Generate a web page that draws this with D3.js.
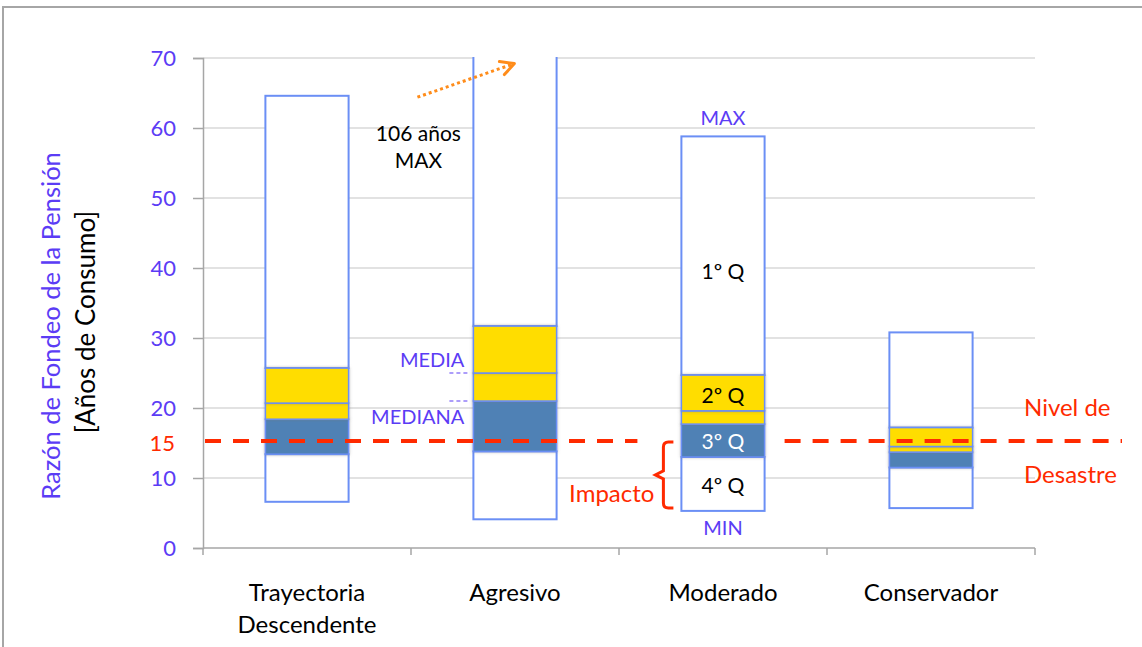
<!DOCTYPE html>
<html>
<head>
<meta charset="utf-8">
<script src="https://cdn.jsdelivr.net/npm/d3@7"></script>
<style>
  body { margin: 0; background: #fff; }
  svg { display: block; font-family: Lato, "Open Sans", sans-serif; }
</style>
</head>
<body>
<svg width="1142" height="647"></svg>
<script>
// --- data ---
var categories = ["Trayectoria Descendente", "Agresivo", "Moderado", "Conservador"];
var minVals    = [6.6, 4.1, 5.3, 5.7];
var q1Vals     = [13.4, 13.8, 13.0, 11.5];
var medianVals = [18.4, 21.0, 17.7, 13.7];
var meanVals   = [20.7, 25.0, 19.6, 14.5];
var q3Vals     = [25.7, 31.7, 24.7, 17.2];
var maxVals    = [64.6, 106, 58.8, 30.8];
var yTicks     = [0, 10, 20, 30, 40, 50, 60, 70];
var disasterLevel = 15.3;

var purple = "#5b3cf5",
    red = "#ff2a00",
    yellow = "#ffdd00",
    blue = "#4f81b5",
    barStroke = "#6b8ff5",
    axisGray = "#a6a6a6",
    gridGray = "#d9d9d9";

var svg = d3.select("svg");

// frame
svg.append("path")
    .attr("d", "M3,647 L3,7 L1142,7")
    .attr("fill", "none").attr("stroke", axisGray).attr("stroke-width", 2);

var x = d3.scaleBand()
    .domain(categories)
    .range([203, 1035])
    .paddingInner(0.6)
    .paddingOuter(0.3);

var y = d3.scaleLinear()
    .domain([0, 70])
    .range([548, 58]);

var defs = svg.append("defs");
defs.append("clipPath").attr("id", "plot")
  .append("rect").attr("x", 203).attr("y", 57).attr("width", 832).attr("height", 492);
var glow = defs.append("filter").attr("id", "glow")
    .attr("x", "-10%").attr("y", "-20%").attr("width", "120%").attr("height", "140%");
glow.append("feDropShadow")
    .attr("dx", 0).attr("dy", 0).attr("stdDeviation", 1.6)
    .attr("flood-color", "#777").attr("flood-opacity", 0.5);

// grid
svg.append("g").selectAll("line")
  .data(yTicks.filter(function(d) { return d > 0; }))
  .enter().append("line")
    .attr("x1", 203).attr("x2", 1035)
    .attr("y1", function(d) { return y(d); })
    .attr("y2", function(d) { return y(d); })
    .attr("stroke", gridGray).attr("stroke-width", 1.5);

// y axis
var yAxis = svg.append("g")
    .attr("transform", "translate(203,0)")
    .call(d3.axisLeft(y).tickValues(yTicks).tickSize(10).tickPadding(17));
yAxis.select(".domain").attr("stroke", axisGray).attr("stroke-width", 1.5);
yAxis.selectAll(".tick line").attr("stroke", axisGray).attr("stroke-width", 1.5);
yAxis.selectAll(".tick text")
    .attr("fill", purple).style("font-size", "22px").style("font-family", "Lato");

svg.append("text")
    .attr("x", 175).attr("y", y(15)).attr("dy", "0.35em")
    .attr("text-anchor", "end")
    .attr("fill", red).style("font-size", "22px")
    .text("15");

// x axis
var xAxisG = svg.append("g").attr("transform", "translate(0,548)");
xAxisG.append("line")
    .attr("x1", 203).attr("x2", 1035)
    .attr("stroke", axisGray).attr("stroke-width", 1.5);
xAxisG.selectAll(".sep")
  .data(d3.range(categories.length + 1))
  .enter().append("line")
    .attr("x1", function(i) { return 203 + i * x.step(); })
    .attr("x2", function(i) { return 203 + i * x.step(); })
    .attr("y1", 0).attr("y2", 7)
    .attr("stroke", axisGray).attr("stroke-width", 1.5);

var catLabel = svg.append("g").selectAll("text")
  .data(categories)
  .enter().append("text")
    .attr("x", function(d) { return x(d) + x.bandwidth() / 2; })
    .attr("y", 601)
    .attr("text-anchor", "middle")
    .attr("fill", "#000")
    .style("font-size", "24px");
catLabel.each(function(d) {
  var words = d.split(" ");
  var t = d3.select(this);
  words.forEach(function(w, i) {
    t.append("tspan")
      .attr("x", x(d) + x.bandwidth() / 2)
      .attr("dy", i === 0 ? 0 : 32)
      .text(w);
  });
});

// y title
svg.append("text")
    .attr("transform", "translate(60,326) rotate(-90)")
    .attr("text-anchor", "middle")
    .attr("fill", purple).style("font-size", "25.5px")
    .text("Razón de Fondeo de la Pensión");
svg.append("text")
    .attr("transform", "translate(95,322) rotate(-90)")
    .attr("text-anchor", "middle")
    .attr("fill", "#000").style("font-size", "26px")
    .text("[Años de Consumo]");

// boxes
var segFill = ["#fff", blue, yellow, yellow, "#fff"];
var segs = [];
categories.forEach(function(c, i) {
  var b = [minVals[i], q1Vals[i], medianVals[i], meanVals[i], q3Vals[i], maxVals[i]];
  for (var k = 0; k < 5; k++) {
    segs.push({cat: c, lo: b[k], hi: b[k + 1], fill: segFill[k]});
  }
});

var bars = svg.append("g").attr("clip-path", "url(#plot)");
bars.selectAll("rect.seg")
  .data(segs.filter(function(s) { return s.fill === "#fff"; }))
  .enter().append("rect")
    .attr("class", "seg")
    .attr("x", function(d) { return x(d.cat); })
    .attr("width", x.bandwidth())
    .attr("y", function(d) { return y(d.hi); })
    .attr("height", function(d) { return y(d.lo) - y(d.hi); })
    .attr("fill", "#fff")
    .attr("stroke", barStroke).attr("stroke-width", 2);
bars.selectAll("rect.col")
  .data(segs.filter(function(s) { return s.fill !== "#fff"; }))
  .enter().append("rect")
    .attr("class", "col")
    .attr("x", function(d) { return x(d.cat); })
    .attr("width", x.bandwidth())
    .attr("y", function(d) { return y(d.hi); })
    .attr("height", function(d) { return y(d.lo) - y(d.hi); })
    .attr("fill", function(d) { return d.fill; })
    .attr("filter", "url(#glow)")
    .attr("stroke", barStroke).attr("stroke-width", 1.5);

// disaster line, broken around the Moderado box and its brace
var gapL = x("Moderado") - 44, gapR = x("Moderado") + x.bandwidth() + 20;
[[205, gapL], [gapR, 1122]].forEach(function(s) {
  svg.append("line")
      .attr("x1", s[0]).attr("x2", s[1])
      .attr("y1", y(disasterLevel)).attr("y2", y(disasterLevel))
      .attr("stroke", red).attr("stroke-width", 4)
      .attr("stroke-dasharray", "16,12");
});

svg.append("text").attr("x", 1024).attr("y", 416)
    .attr("fill", red).style("font-size", "24px").text("Nivel de");
svg.append("text").attr("x", 1024).attr("y", 483)
    .attr("fill", red).style("font-size", "24px").text("Desastre");

// annotations on Moderado
var mx = x("Moderado") + x.bandwidth() / 2;
svg.append("text").attr("x", mx).attr("y", y(maxVals[2]) - 11)
    .attr("text-anchor", "middle").attr("fill", purple).style("font-size", "20px").text("MAX");
svg.append("text").attr("x", mx).attr("y", y(minVals[2]) + 24)
    .attr("text-anchor", "middle").attr("fill", purple).style("font-size", "20px").text("MIN");
var qLabels = [
  {t: "1º Q", v: 39.5, c: "#000"},
  {t: "2º Q", v: 21.7, c: "#000"},
  {t: "3º Q", v: 15.2, c: "#fff"},
  {t: "4º Q", v: 8.9, c: "#000"}
];
svg.append("g").selectAll("text")
  .data(qLabels)
  .enter().append("text")
    .attr("x", mx).attr("y", function(d) { return y(d.v); })
    .attr("dy", "0.35em")
    .attr("text-anchor", "middle")
    .attr("fill", function(d) { return d.c; })
    .style("font-size", "21px")
    .text(function(d) { return d.t; });

// impact brace
var bx = x("Moderado") - 8, by0 = y(disasterLevel) + 1, by1 = y(minVals[2]) - 3;
var bm = (by0 + by1) / 2;
svg.append("path")
    .attr("d", "M" + bx + "," + by0 + " L" + (bx - 5) + "," + by0 +
      " Q" + (bx - 10) + "," + by0 + " " + (bx - 10) + "," + (by0 + 5) +
      " L" + (bx - 10) + "," + (bm - 4) + " L" + (bx - 18) + "," + bm +
      " L" + (bx - 10) + "," + (bm + 4) + " L" + (bx - 10) + "," + (by1 - 5) +
      " Q" + (bx - 10) + "," + by1 + " " + (bx - 5) + "," + by1 + " L" + bx + "," + by1)
    .attr("fill", "none").attr("stroke", red).attr("stroke-width", 3);
svg.append("text").attr("x", bx - 19).attr("y", 502)
    .attr("text-anchor", "end").attr("fill", red).style("font-size", "24px").text("Impacto");

// media / mediana labels next to Agresivo
var ax = x("Agresivo");
svg.append("text").attr("x", ax - 9).attr("y", 367)
    .attr("text-anchor", "end").attr("fill", purple).style("font-size", "20px").text("MEDIA");
svg.append("text").attr("x", ax - 9).attr("y", 424)
    .attr("text-anchor", "end").attr("fill", purple).style("font-size", "20px").text("MEDIANA");
svg.append("line").attr("x1", ax - 24).attr("x2", ax - 3)
    .attr("y1", y(meanVals[1])).attr("y2", y(meanVals[1]))
    .attr("stroke", purple).attr("stroke-width", 1.2).attr("stroke-dasharray", "4,3");
svg.append("line").attr("x1", ax - 24).attr("x2", ax - 3)
    .attr("y1", y(medianVals[1])).attr("y2", y(medianVals[1]))
    .attr("stroke", purple).attr("stroke-width", 1.2).attr("stroke-dasharray", "4,3");

// 106 anos max
svg.append("text").attr("x", ax - 55).attr("y", 141)
    .attr("text-anchor", "middle").attr("fill", "#000").style("font-size", "21px").text("106 años");
svg.append("text").attr("x", ax - 55).attr("y", 168)
    .attr("text-anchor", "middle").attr("fill", "#000").style("font-size", "21px").text("MAX");

var arrowStart = [ax - 56, y(64.4)], arrowEnd = [ax + 41, y(69.2)];
svg.append("line")
    .attr("x1", arrowStart[0]).attr("y1", arrowStart[1])
    .attr("x2", arrowEnd[0] - 3).attr("y2", arrowEnd[1] + 1)
    .attr("stroke", "#ff8c1a").attr("stroke-width", 3).attr("stroke-dasharray", "3,3");
svg.append("path")
    .attr("d", "M" + (arrowEnd[0] - 15) + "," + (arrowEnd[1] - 2) + " L" + arrowEnd[0] + "," + arrowEnd[1] +
      " L" + (arrowEnd[0] - 10) + "," + (arrowEnd[1] + 11))
    .attr("fill", "none").attr("stroke", "#ff8c1a").attr("stroke-width", 3)
    .attr("stroke-linejoin", "round").attr("stroke-linecap", "round");
</script>
</body>
</html>
